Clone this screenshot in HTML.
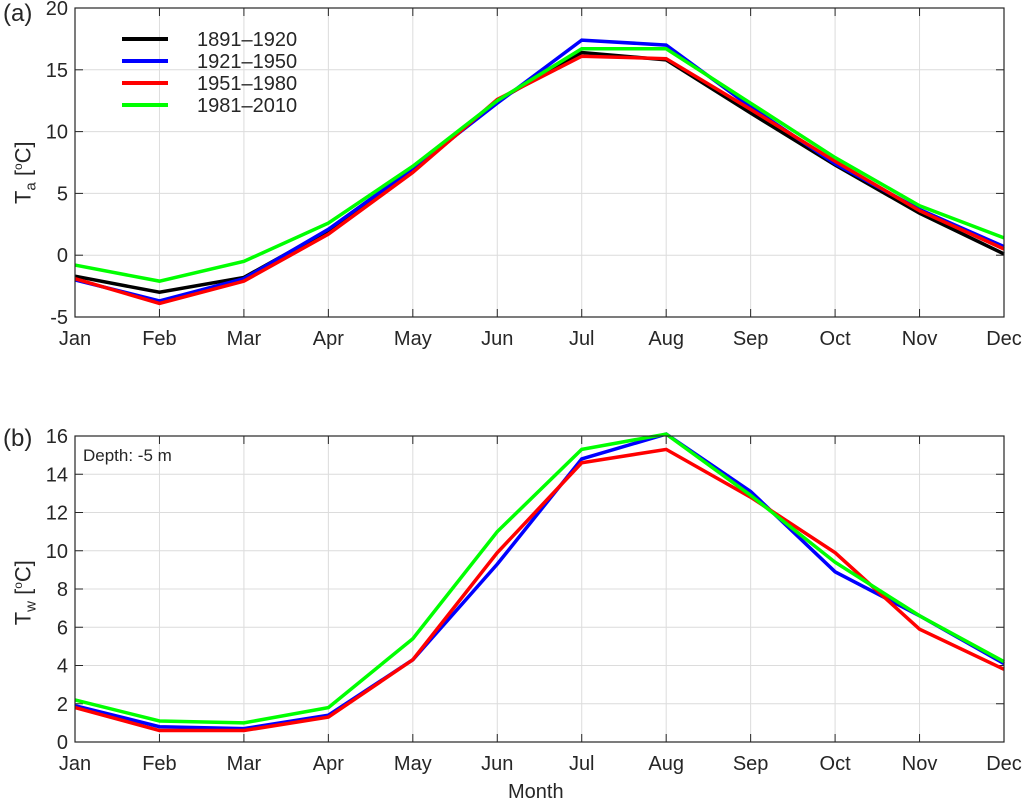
<!DOCTYPE html>
<html><head><meta charset="utf-8"><style>
body{margin:0;background:#fff;}
svg text{font-family:"Liberation Sans",Arial,sans-serif;fill:#262626;}
</style></head><body>
<svg id="chart" width="1024" height="802" viewBox="0 0 1024 802"></svg>
<script>
const months=["Jan","Feb","Mar","Apr","May","Jun","Jul","Aug","Sep","Oct","Nov","Dec"];
const periods=["1891–1920","1921–1950","1951–1980","1981–2010"];
const colors=["#000000","#0000ff","#ff0000","#00ff00"];
const airBlack=[-1.7,-3.0,-1.8,2.0,6.8,12.5,16.4,15.8,11.5,7.3,3.4,0.1];
const airBlue=[-2.0,-3.7,-1.9,2.1,7.0,12.3,17.4,17.0,12.0,7.4,3.7,0.7];
const airRed=[-1.9,-3.9,-2.1,1.7,6.7,12.6,16.1,15.9,11.8,7.6,3.6,0.5];
const airGreen=[-0.8,-2.1,-0.5,2.6,7.2,12.5,16.7,16.7,12.3,7.9,4.0,1.4];
const waterBlue=[1.9,0.8,0.7,1.4,4.3,9.3,14.8,16.1,13.1,8.9,6.6,4.1];
const waterRed=[1.8,0.6,0.6,1.3,4.3,9.9,14.6,15.3,12.8,9.9,5.9,3.8];
const waterGreen=[2.2,1.1,1.0,1.8,5.4,11.0,15.3,16.1,12.9,9.4,6.6,4.2];
const airTicks=[-5,0,5,10,15,20];
const waterTicks=[0,2,4,6,8,10,12,14,16];

const NS="http://www.w3.org/2000/svg";
const svg=document.getElementById('chart');
function mk(tag,attrs,parent){const e=document.createElementNS(NS,tag);for(const k in attrs)e.setAttribute(k,attrs[k]);(parent||svg).appendChild(e);return e;}
const X0=75,X1=1004;
const xs=i=>X0+i*(X1-X0)/11;

function panel(name,top,bottom,ymin,ymax,ticks,series,cols){
  const g=mk('g',{});
  
  
  const ys=v=>bottom-(v-ymin)/(ymax-ymin)*(bottom-top);
  mk('rect',{x:X0,y:top,width:X1-X0,height:bottom-top,fill:'#fff'},g);
  months.forEach((m,i)=>{
    const l=mk('line',{x1:xs(i),x2:xs(i),y1:top,y2:bottom,stroke:'#dcdcdc','stroke-width':1},g);
    
    
    mk('line',{x1:xs(i),x2:xs(i),y1:bottom,y2:bottom-8,stroke:'#262626'},g);
    mk('line',{x1:xs(i),x2:xs(i),y1:top,y2:top+8,stroke:'#262626'},g);
    const t=mk('text',{x:xs(i),y:bottom+28,'font-size':20,'text-anchor':'middle'},g);
    t.textContent=m;
    
    
  });
  ticks.forEach(v=>{
    const y=ys(v);
    const l=mk('line',{x1:X0,x2:X1,y1:y,y2:y,stroke:'#dcdcdc','stroke-width':1},g);
    
    
    mk('line',{x1:X0,x2:X0+8,y1:y,y2:y,stroke:'#262626'},g);
    mk('line',{x1:X1,x2:X1-8,y1:y,y2:y,stroke:'#262626'},g);
    const t=mk('text',{x:X0-7,y:y+7,'font-size':20,'text-anchor':'end'},g);
    t.textContent=v;
    
    
  });
  series.forEach((s,k)=>{
    const p=mk('polyline',{points:s.map((v,i)=>xs(i)+','+ys(v)).join(' '),fill:'none',stroke:cols[k],'stroke-width':3.5,'stroke-linejoin':'miter'},g);
    
    
  });
  mk('rect',{x:X0,y:top,width:X1-X0,height:bottom-top,fill:'none',stroke:'#262626','stroke-width':1.2},g);
  return g;
}
panel('panel-a-air-temp',8,317,-5,20,airTicks,[airBlack,airBlue,airRed,airGreen],colors);
panel('panel-b-water-temp',436,742,0,16,waterTicks,[waterBlue,waterRed,waterGreen],[colors[1],colors[2],colors[3]]);

periods.forEach((p,k)=>{
  const y=39+k*22;
  const l=mk('line',{x1:122,x2:168,y1:y,y2:y,stroke:colors[k],'stroke-width':4});
  
  
  const t=mk('text',{x:197,y:y+7,'font-size':20});
  t.textContent=p;
  
  
});
</script>
<div style="position:absolute;left:0;top:0;width:1024px;height:802px;pointer-events:none;font-family:'Liberation Sans',Arial,sans-serif;color:#262626;">
 <div style="position:absolute;left:3px;top:0px;font-size:24px;">(a)</div>
 <div style="position:absolute;left:3px;top:425px;font-size:24px;">(b)</div>
 <div style="position:absolute;left:83px;top:446px;font-size:17px;">Depth: -5 m</div>
 <div style="position:absolute;left:508px;top:781px;font-size:20px;">Month</div>
 <div style="position:absolute;left:-25px;top:158px;width:100px;text-align:center;font-size:22px;transform:rotate(-90deg);white-space:nowrap;">T<sub style="font-size:15px">a</sub> [<sup style="font-size:12px">o</sup>C]</div>
 <div style="position:absolute;left:-25px;top:578px;width:100px;text-align:center;font-size:22px;transform:rotate(-90deg);white-space:nowrap;">T<sub style="font-size:15px">w</sub> [<sup style="font-size:12px">o</sup>C]</div>
</div>
</body></html>
